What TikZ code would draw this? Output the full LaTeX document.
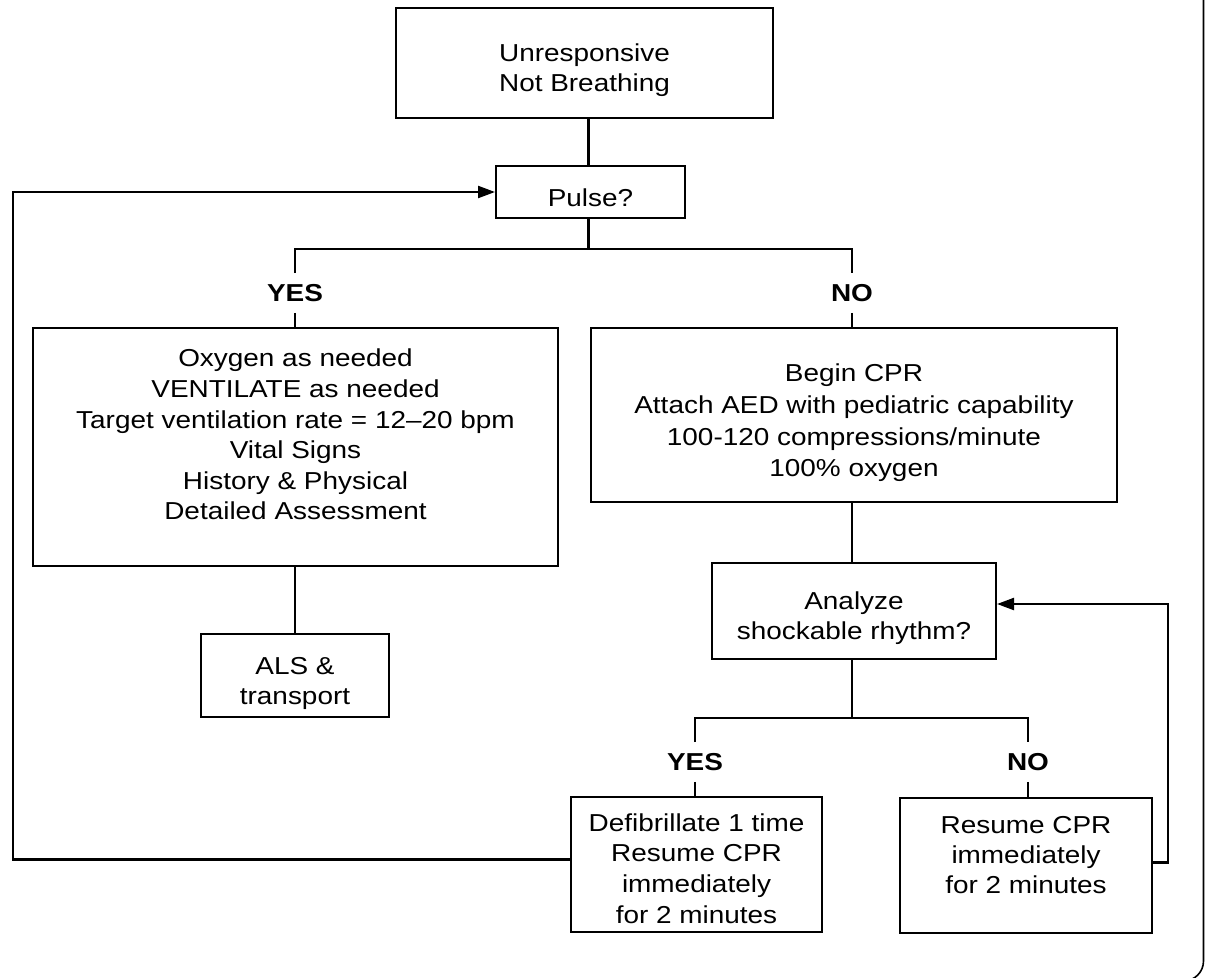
\documentclass[tikz,border=0pt]{standalone}
\usepackage{fontspec}
\setmainfont{Liberation Sans}[FakeStretch=1.14]
\usetikzlibrary{arrows.meta}
\newcommand\fsz[1]{\fontsize{24.5}{#1}\selectfont}
\begin{document}
\begin{tikzpicture}[x=1pt,y=-1pt,
  box/.style={draw, line width=2pt, inner sep=0pt, align=center, anchor=north, minimum width=#1},
  lbl/.style={font=\fsz{30}\bfseries, inner xsep=4pt, inner ysep=11pt},
  conn/.style={line width=2.3pt},
  arr/.style={line width=2.3pt, -{Triangle[length=17pt,width=12pt]}}]
\useasboundingbox (0,0) rectangle (1206,977);
\clip (0,0) rectangle (1206,977);

% page border (partially visible)
\draw[line width=1.6pt, rounded corners=20pt] (1203.5,-20) -- (1203.5,981) -- (-20,981);

% boxes
\node[box=377, font=\fsz{30}] (start) at (584.5,7)
  {\rule{0pt}{53.8pt}Unresponsive\\Not Breathing\rule[-26.2pt]{0pt}{26.2pt}};
\node[box=189, font=\fsz{30}] (pulse) at (590.5,165)
  {\rule[-11.2pt]{0pt}{52pt}Pulse?};
\node[box=525, font=\fsz{30.6}] (care) at (295.5,327)
  {\rule{0pt}{38.8pt}Oxygen as needed\\VENTILATE as needed\\Target ventilation rate = 12–20 bpm\\Vital Signs\\History \& Physical\\Detailed Assessment\rule[-46.2pt]{0pt}{46.2pt}};
\node[box=526, font=\fsz{31.67}] (cpr) at (854,327)
  {\rule{0pt}{53.8pt}Begin CPR\\Attach AED with pediatric capability\\100-120 compressions/minute\\100\% oxygen\rule[-25.2pt]{0pt}{25.2pt}};
\node[box=188, font=\fsz{30}] (als) at (295,633)
  {\rule{0pt}{40pt}ALS \&\\transport\rule[-13pt]{0pt}{13pt}};
\node[box=284, font=\fsz{30}] (analyze) at (854,562)
  {\rule{0pt}{46pt}Analyze\\shockable rhythm?\rule[-20pt]{0pt}{20pt}};
\node[box=251, font=\fsz{30.7}] (defib) at (696.5,796)
  {\rule{0pt}{34pt}Defibrillate 1 time\\Resume CPR\\immediately\\for 2 minutes\rule[-9pt]{0pt}{9pt}};
\node[box=252, font=\fsz{30}] (resume) at (1026,797)
  {\rule{0pt}{35pt}Resume CPR\\immediately\\for 2 minutes\rule[-40pt]{0pt}{40pt}};

% branch labels
\node[lbl] (yes1) at (295,293) {YES};
\node[lbl] (no1) at (852,293) {NO};
\node[lbl] (yes2) at (695,762) {YES};
\node[lbl] (no2) at (1028,762) {NO};

% branch points and loop corners
\coordinate (br1) at (588.5,249);
\coordinate (br2) at (852,718);
\coordinate (loopL) at (13,500);
\coordinate (loopR) at (1168,700);

% connectors
\draw[conn] (start.south -| br1) -- (pulse.north -| br1);
\draw[conn] (pulse.south -| br1) -- (br1);
\draw[conn] (yes1.north) -- (yes1.north |- br1) -- (no1.north |- br1) -- (no1.north);
\draw[conn] (yes1.south) -- (yes1.south |- care.north);
\draw[conn] (no1.south) -- (no1.south |- cpr.north);
\draw[conn] (als.north |- care.south) -- (als.north);
\draw[conn] (br2 |- cpr.south) -- (br2 |- analyze.north);
\draw[conn] (br2 |- analyze.south) -- (br2);
\draw[conn] (yes2.north) -- (yes2.north |- br2) -- (no2.north |- br2) -- (no2.north);
\draw[conn] (yes2.south) -- (yes2.south |- defib.north);
\draw[conn] (no2.south) -- (no2.south |- resume.north);

% feedback loops
\draw[arr] ([yshift=5pt]defib.west) -| (loopL) |- (pulse.west);
\draw[arr] ([yshift=3pt]resume.east) -| (loopR) |- ([yshift=7pt]analyze.east);
\end{tikzpicture}
\end{document}
